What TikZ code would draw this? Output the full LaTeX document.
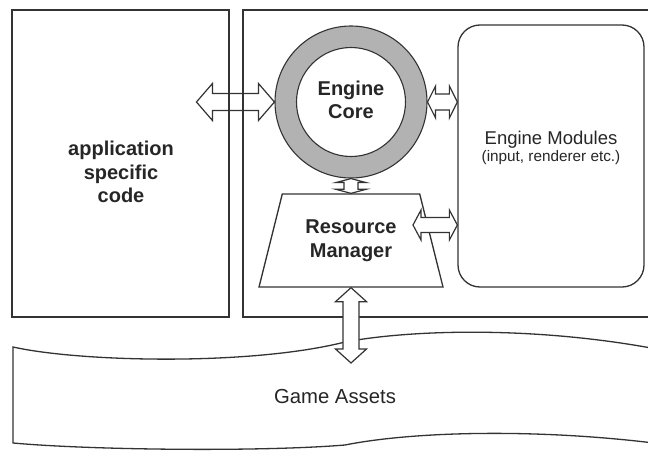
\documentclass[tikz,border=0pt]{standalone}
\usepackage{fontspec}
\setmainfont{Liberation Sans}
\usetikzlibrary{calc,shapes.geometric}

\definecolor{lineclr}{HTML}{333333}
\definecolor{ringclr}{HTML}{B2B2B2}

\def \ringouter {152pt}
\def \ringinner {109pt}

% hollow double arrows: #2 first tip, #3 second tip, #4 half shaft, #5 half head, #6 head length
\newcommand{\hdouble}[6][]{%
  \draw[hollow,#1] let \p1=(#2), \p2=(#3) in
    (\x1,\y1) -- (\x1+#6pt,\y1+#5pt) -- (\x1+#6pt,\y1+#4pt) -- (\x2-#6pt,\y1+#4pt)
    -- (\x2-#6pt,\y1+#5pt) -- (\x2,\y1) -- (\x2-#6pt,\y1-#5pt) -- (\x2-#6pt,\y1-#4pt)
    -- (\x1+#6pt,\y1-#4pt) -- (\x1+#6pt,\y1-#5pt) -- cycle;
}
\newcommand{\vdouble}[6][]{%
  \draw[hollow,#1] let \p1=(#2), \p2=(#3) in
    (\x1,\y1) -- (\x1+#5pt,\y1-#6pt) -- (\x1+#4pt,\y1-#6pt) -- (\x1+#4pt,\y2+#6pt)
    -- (\x1+#5pt,\y2+#6pt) -- (\x1,\y2) -- (\x1-#5pt,\y2+#6pt) -- (\x1-#4pt,\y2+#6pt)
    -- (\x1-#4pt,\y1-#6pt) -- (\x1-#5pt,\y1-#6pt) -- cycle;
}

\tikzset{
  box/.style={draw=lineclr, line width=1.3pt, inner sep=0pt},
  hollow/.style={draw=lineclr, line width=1.2pt, line join=miter},
  boldtxt/.style={font=\fontsize{20}{23.5}\selectfont\bfseries, text=black!85, align=center},
  plaintxt/.style={font=\fontsize{18.5}{20}\selectfont, text=black!85, align=center}
}

\begin{document}
\begin{tikzpicture}[x=1pt, y=-1pt]
\useasboundingbox (0,0) rectangle (648,450);
\clip (0,0) rectangle (648,450);

% outer boxes
\node[box, minimum width=217pt, minimum height=307pt] (app) at (120.5,163.5) {};
\node[boldtxt] (apptext) at (121,172) {application\\specific\\code};
\node[box, minimum width=420pt, minimum height=307pt] (engine) at (453,163.5) {};

% engine core ring
\node[box, line width=1.1pt, circle, fill=ringclr, minimum size=\ringouter] (ring) at (351,102) {};
\node[box, line width=1.1pt, circle, fill=white, minimum size=\ringinner] (core) at (351,102) {};
\node[boldtxt] (coretext) at (351,100) {Engine\\Core};

% resource manager
\node[box, boldtxt, trapezium, trapezium angle=69.6, trapezium stretches=true,
      minimum width=184pt, minimum height=93pt] (resmgr) at (351,240.5) {Resource\\Manager};

% engine modules
\node[box, rounded corners=22pt, minimum width=186pt, minimum height=262pt] (modules) at (551,156) {};
\node[plaintxt] (modtext) at (551,140) {Engine Modules};
\node[font=\fontsize{15.3}{17}\selectfont, text=black!85] (modsub) at (551,158) {(input, renderer etc.)};

% game assets
\draw[box, fill=white] (13,347) .. controls (80,362) and (250,366) .. (345,342)
  .. controls (420,328) and (560,326) .. (690,356) -- (690,448)
  .. controls (560,428) and (420,430) .. (345,445)
  .. controls (260,452) and (90,450) .. (13,443) -- cycle;
\node[plaintxt, font=\fontsize{20.3}{22}\selectfont] (assets) at (335,397) {Game Assets};

% connectors
\coordinate (appport) at ([xshift=-78pt]ring.west);
\coordinate (rmport) at (413,225);
\coordinate (assetport) at (351,363);
\hdouble{appport}{ring.west}{8.5}{18.5}{16}
\hdouble{ring.east}{ring.east -| modules.west}{8}{16}{8}
\hdouble[fill=white]{rmport}{rmport -| modules.west}{7.5}{15}{8}
\vdouble[fill=white]{ring.south}{resmgr.north}{7}{15}{4}
\vdouble[fill=white]{resmgr.south}{assetport}{8}{15.5}{14}
\end{tikzpicture}
\end{document}
